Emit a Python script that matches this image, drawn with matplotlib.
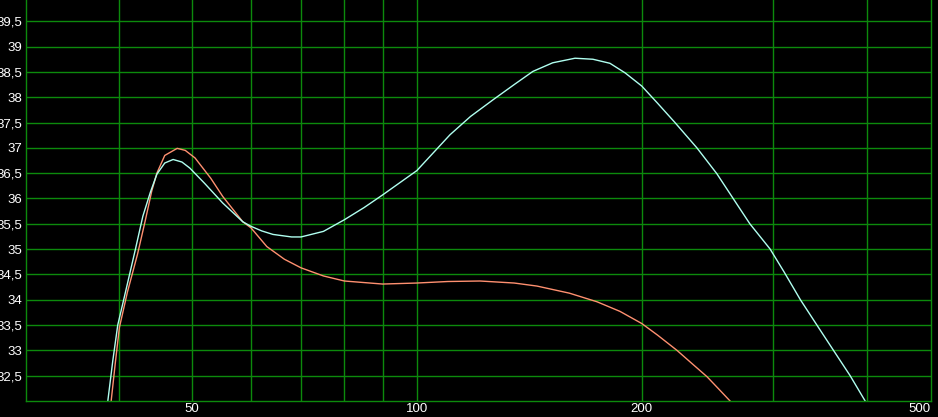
import numpy as np
import matplotlib
matplotlib.use("Agg")
import matplotlib.pyplot as plt
from matplotlib.ticker import FixedLocator, NullFormatter

# cyan curve
cyan_x = [38.6, 39.2, 39.8, 40.8, 42.0, 43.0, 44.0, 44.9, 46.0, 47.2, 48.5, 49.7,
          52.0, 55.0, 58.5, 60.0, 62.0, 64.2, 68.0, 70.0, 75.0, 80.0, 85.0, 90.0,
          100.0, 110.8, 118.0, 126.5, 135.0, 143.0, 152.0, 162.8, 172.0, 181.3,
          190.0, 200.0, 210.0, 221.5, 237.0, 252.0, 265.0, 279.0, 297.0, 310.0,
          326.0, 343.0, 361.0, 380.0, 398.0]
cyan_y = [32.0, 32.8, 33.5, 34.18, 34.98, 35.65, 36.12, 36.48, 36.7, 36.77, 36.72, 36.6,
          36.3, 35.91, 35.54, 35.45, 35.36, 35.29, 35.24, 35.24, 35.35, 35.58, 35.82, 36.07,
          36.55, 37.26, 37.62, 37.95, 38.25, 38.51, 38.68, 38.77, 38.75, 38.67,
          38.48, 38.22, 37.88, 37.5, 37.0, 36.49, 36.0, 35.5, 35.0, 34.55,
          34.0, 33.5, 33.0, 32.5, 32.0]

# red curve
red_x = [39.0, 39.5, 40.0, 41.0, 42.3, 43.3, 44.2, 44.9, 46.0, 47.8, 49.0, 50.5,
         53.0, 55.0, 58.5, 60.0, 63.0, 66.5, 70.0, 75.0, 80.0, 90.0, 100.0, 110.0,
         121.5, 135.0, 144.8, 160.0, 174.2, 187.0, 200.0, 210.0, 222.9, 233.0,
         244.5, 253.0, 262.5]
red_y = [32.0, 32.75, 33.45, 34.15, 34.9, 35.55, 36.15, 36.5, 36.85, 36.99, 36.95, 36.8,
         36.4, 36.04, 35.54, 35.42, 35.05, 34.8, 34.63, 34.47, 34.37, 34.31, 34.33, 34.36,
         34.37, 34.33, 34.27, 34.13, 33.96, 33.77, 33.53, 33.3, 33.0, 32.75,
         32.48, 32.25, 32.0]

x_major = [50, 100, 200]
x_minor = [40, 60, 70, 80, 90, 300, 400]
y_ticks = [32.5, 33, 33.5, 34, 34.5, 35, 35.5, 36, 36.5, 37, 37.5, 38, 38.5, 39, 39.5]

grid_col = '#0c8a0c'
plt.rcParams['font.family'] = ['Liberation Sans', 'DejaVu Sans']

fig = plt.figure(figsize=(9.38, 4.17), dpi=100, facecolor='black')
ax = fig.add_axes([26 / 938, 16 / 417, 905 / 938, 401 / 417])
ax.set_facecolor('black')

ax.set_xscale('log')
ax.set_xlim(30, 487.5)
ax.set_ylim(32, 39.92)

ax.xaxis.set_major_locator(FixedLocator(x_major))
ax.xaxis.set_minor_locator(FixedLocator(x_minor))
ax.xaxis.set_minor_formatter(NullFormatter())
ax.set_xticklabels([str(v) for v in x_major])
ax.set_yticks(y_ticks)
ax.set_yticklabels([('%g' % v).replace('.', ',') for v in y_ticks])

ax.grid(True, which='both', color=grid_col, linewidth=1)
ax.set_axisbelow(True)
ax.tick_params(which='both', length=0, colors='white', labelsize=9.5)
ax.tick_params(axis='y', pad=2.5)
ax.tick_params(axis='x', pad=1.5)
for s in ax.spines.values():
    s.set_color(grid_col)
    s.set_linewidth(1)
ax.spines['top'].set_visible(False)

ax.plot(red_x, red_y, color='#ff9070', linewidth=1)
ax.plot(cyan_x, cyan_y, color='#b0fff0', linewidth=1)

ax.annotate('500', xy=(1, 0), xycoords='axes fraction', xytext=(0, -1.5),
            textcoords='offset points', color='white', fontsize=9.5,
            ha='right', va='top', annotation_clip=False)

fig.savefig('out.png', dpi=100, facecolor='black')
